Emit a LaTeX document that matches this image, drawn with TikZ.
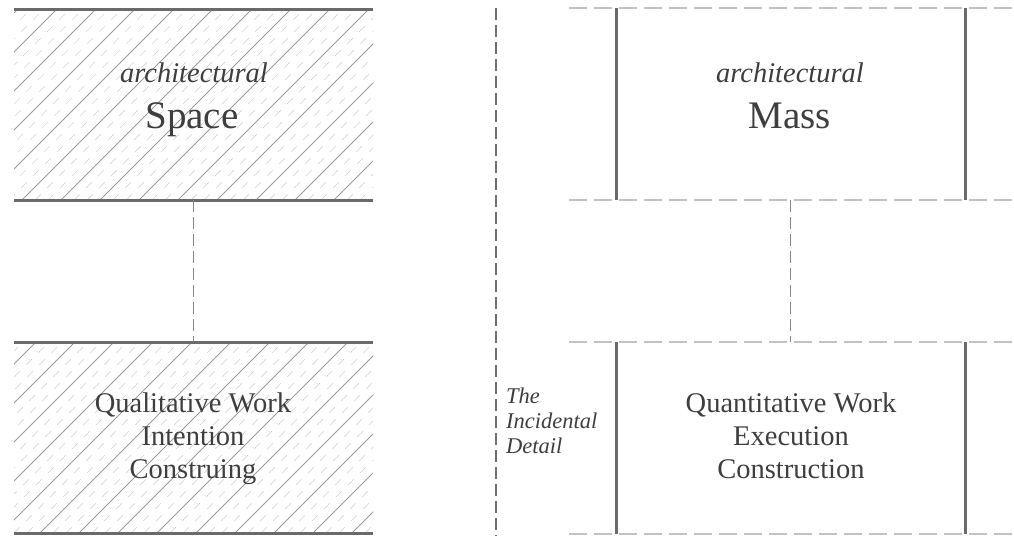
\documentclass[tikz,border=0pt]{standalone}
\usepackage{fontspec}
\setmainfont{Liberation Serif}
\definecolor{txt}{HTML}{3E3E3E}
\definecolor{rule}{HTML}{6A6A6A}
\definecolor{hatchsolid}{HTML}{9C9C9C}
\definecolor{hatchdash}{HTML}{D6D6D6}
\definecolor{lightdash}{HTML}{C2C2C2}
\definecolor{conn}{HTML}{888888}
\definecolor{divider}{HTML}{707070}
\tikzset{
  boxnode/.style={inner sep=0pt, outer sep=0pt, minimum width=#1, draw=none},
  heavyrule/.style={draw=rule, line width=3pt},
  lightrule/.style={draw=lightdash, line width=1.6pt, dash pattern=on 18pt off 7pt},
  connector/.style={draw=conn, line width=1.7pt, dash pattern=on 12pt off 5pt},
  dividerline/.style={draw=divider, line width=1.8pt, dash pattern=on 12pt off 5pt},
  hsolid/.style={draw=hatchsolid, line width=0.8pt},
  hdash/.style={draw=hatchdash, line width=0.7pt, dash pattern=on 8pt off 9pt},
  lbl/.style={text=txt, inner sep=0pt, anchor=base},
}
\newcommand{\hatchbox}[4]{% x1,y1,x2,y2
  \begin{scope}
    \clip (#1,#2) rectangle (#3,#4);
    \foreach \k in {27,66,...,1000}{
      \draw[hsolid] ({\k-#4},#4) -- ({\k-#2},#2);
      \draw[hdash] ({\k+13-#4},#4) -- ({\k+13-#2},#2);
      \draw[hdash] ({\k+26-#4},#4) -- ({\k+26-#2},#2);
    }
  \end{scope}}
\begin{document}
\begin{tikzpicture}[x=1pt,y=-1pt]
\useasboundingbox (0,0) rectangle (1014,536);
% left boxes
\node[boxnode=359pt, minimum height=191pt] (spacebox) at (193.5,104.5) {};
\node[boxnode=359pt, minimum height=191pt] (qualbox) at (193.5,437.5) {};
\hatchbox{14}{9}{373}{200}
\hatchbox{14}{342}{373}{533}
\draw[heavyrule] (spacebox.north west) -- (spacebox.north east);
\draw[heavyrule] (spacebox.south west) -- (spacebox.south east);
\draw[heavyrule] (qualbox.north west) -- (qualbox.north east);
\draw[heavyrule] (qualbox.south west) -- (qualbox.south east);
\draw[connector] (spacebox.south) -- (qualbox.north);
% divider
\coordinate (divtop) at (496,8);
\coordinate (divbot) at (496,536);
\draw[dividerline] (divtop) -- (divbot);
% right boxes
\node[boxnode=349pt, minimum height=192pt] (massbox) at (790.5,104) {};
\node[boxnode=349pt, minimum height=192pt] (quantbox) at (790.5,438) {};
\foreach \b in {massbox,quantbox}{
  \draw[lightrule] ([xshift=-47pt]\b.north west) -- ([xshift=49pt]\b.north east);
  \draw[lightrule] ([xshift=-47pt]\b.south west) -- ([xshift=49pt]\b.south east);
  \draw[heavyrule] (\b.north west) -- (\b.south west);
  \draw[heavyrule] (\b.north east) -- (\b.south east);
}
\draw[connector] (massbox.south) -- (quantbox.north);
% labels
\node[lbl, font=\fontsize{28.5}{33}\selectfont\itshape] (spaceadj) at (194,82) {architectural};
\node[lbl, font=\fontsize{39}{44}\selectfont] (spacename) at (192,128) {Space};
\node[lbl, font=\fontsize{28.5}{33}\selectfont\itshape] (massadj) at (790,82) {architectural};
\node[lbl, font=\fontsize{39}{44}\selectfont] (massname) at (790,128) {Mass};
\node[lbl, font=\fontsize{28.5}{33}\selectfont] (qualtext) at (193,412)
  {\begin{tabular}[t]{@{}c@{}}Qualitative Work\\Intention\\Construing\end{tabular}};
\node[lbl, font=\fontsize{28.5}{33}\selectfont] (quanttext) at (791,412)
  {\begin{tabular}[t]{@{}c@{}}Quantitative Work\\Execution\\Construction\end{tabular}};
\node[lbl, anchor=base west, font=\fontsize{22.5}{25}\selectfont\itshape] (incid) at (506,403)
  {\begin{tabular}[t]{@{}l@{}}The\\Incidental\\Detail\end{tabular}};
\end{tikzpicture}
\end{document}
